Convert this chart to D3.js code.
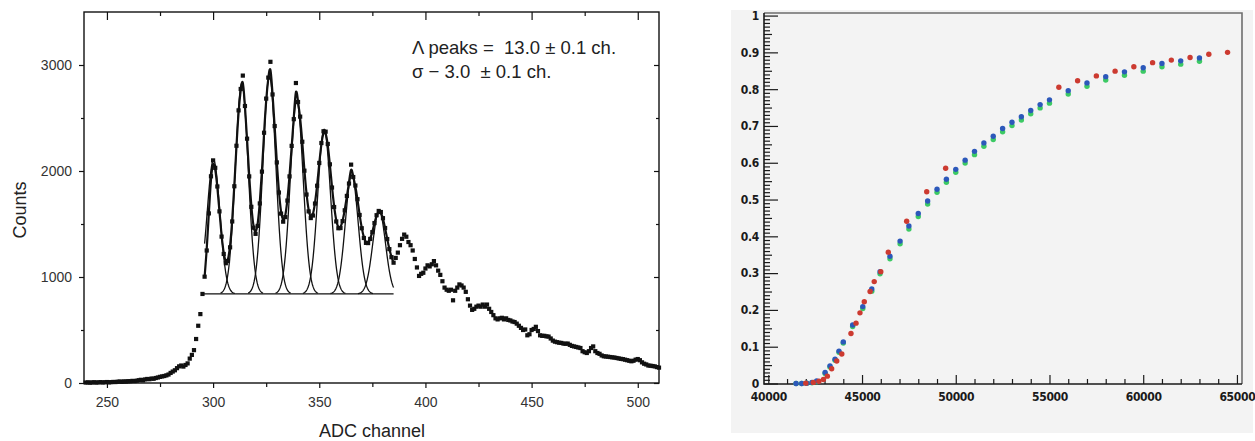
<!DOCTYPE html>
<html><head><meta charset="utf-8">
<script src="https://cdn.jsdelivr.net/npm/d3@7"></script>
<style>
body{margin:0;background:#fff;}
svg{display:block;}
</style></head><body>
<svg id="c" width="1255" height="441"></svg>
<script>
// ================= LEFT CHART DATA =================
const channelStart = 240; // counts[i] belongs to ADC channel channelStart + i
const counts = [
  4,6,3,5,7,4,6,8,5,7,
  9,6,8,10,9,12,14,11,15,13,
  17,16,20,18,22,26,30,25,34,38,
  36,42,40,47,52,58,62,66,72,80,
  95,108,120,140,157,165,155,170,185,230,
  265,310,415,540,650,840,
  1003,1250,1600,1950,2100,2030,1854,1619,1381,1217,
  1130,1151,1280,1524,1856,2238,2572,2774,2900,2613,
  2305,1949,1662,1465,1407,1482,1694,1994,2361,2683,
  2881,3030,2722,2424,2081,1797,1598,1522,1565,1721,
  1949,2237,2489,2830,2651,2513,2276,2003,1778,1619,
  1556,1580,1693,1861,2076,2264,2375,2371,2255,2063,
  1844,1660,1524,1460,1462,1527,1629,1765,1882,2060,
  1943,1863,1734,1585,1460,1368,1322,1320,1359,1423,
  1509,1583,1623,1613,1555,1462,1358,1263,1187,1135,
  1180,1230,1300,1360,1400,
  1380,1330,1300,1250,1170,1090,1010,1030,1040,1080,
  1110,1100,1120,1150,1110,1060,1020,960,900,880,
  870,880,780,870,900,930,920,900,860,790,
  730,690,700,720,730,720,740,720,740,700,
  670,640,610,600,610,615,600,610,595,590,
  580,575,560,540,520,500,505,450,460,500,
  510,530,490,450,445,445,440,438,420,400,
  390,385,380,378,372,370,372,360,350,345,
  340,335,330,300,290,283,300,330,345,300,
  283,275,260,252,250,248,245,242,240,236,
  232,228,225,220,215,210,205,210,220,226,
  215,195,182,175,165,163,160,157,150,145
];
const peakCenters = [300.2, 313.5, 326.5, 339.4, 352.3, 365.3, 378.2];
const peakHeights = [1264, 1987, 2056, 1820, 1553, 1122, 786];
const peakSigma = [3.0];
const fitBaseline = [840];
const fitRange = [295, 385];
const xTicksL = [250, 300, 350, 400, 450, 500];
const xMinorL = [275, 325, 375, 425, 475];
const yTicksL = [0, 1000, 2000, 3000];
const yMinorL = [500, 1500, 2500];

// ================= RIGHT CHART DATA =================
const blueX = [41480,41780,42050,42330,42580,43030,43290,43560,43770,44000,44500,45040,45520,45960,46490,47030,47500,48000,48500,49000,49500,50000,50500,51000,51500,52000,52500,53000,53500,54000,54500,55000,56000,57000,58000,59000,60000,61000,62000,63000];
const blueY = [0.000,0.000,0.001,0.003,0.007,0.030,0.048,0.066,0.088,0.113,0.159,0.209,0.257,0.304,0.346,0.387,0.428,0.462,0.496,0.528,0.555,0.582,0.607,0.631,0.654,0.672,0.693,0.710,0.725,0.742,0.758,0.771,0.796,0.817,0.834,0.847,0.858,0.870,0.877,0.885];
const greenY = [0.000,0.000,0.001,0.002,0.005,0.027,0.045,0.063,0.085,0.110,0.155,0.204,0.251,0.298,0.339,0.380,0.420,0.454,0.488,0.520,0.547,0.574,0.599,0.622,0.645,0.663,0.684,0.701,0.716,0.733,0.749,0.762,0.787,0.808,0.825,0.838,0.849,0.861,0.868,0.876];
const redX = [42000,42400,42700,42940,43150,43380,43650,43920,44410,44680,44890,45120,45430,45650,46000,46400,47380,48450,49460,55500,56500,57500,58500,59500,60500,61500,62500,63500,64500];
const redY = [0.001,0.003,0.006,0.011,0.020,0.040,0.061,0.080,0.136,0.164,0.192,0.222,0.250,0.277,0.304,0.357,0.441,0.521,0.585,0.805,0.823,0.836,0.849,0.861,0.872,0.879,0.886,0.895,0.900];
const xTicksR = [40000, 45000, 50000, 55000, 60000, 65000];
const yTicksR = [0, 0.1, 0.2, 0.3, 0.4, 0.5, 0.6, 0.7, 0.8, 0.9, 1];
const seriesColors = {red: "#cc3a30", green: "#3cc964", blue: "#2c58ba"};

// ================= DRAW =================
const svg = d3.select("#c");
const fontL = "'Liberation Sans', Arial, sans-serif";

// ---------- left chart ----------
const L = {x0: 84, x1: 659, y0: 12, y1: 383};
const xL = d3.scaleLinear().domain([239.2, 510]).range([L.x0, L.x1]);
const yL = d3.scaleLinear().domain([0, 3500]).range([L.y1, L.y0]);
const gL = svg.append("g");

function styleAxis(g, font, size, weight, color) {
  g.select(".domain").remove();
  g.selectAll("line").attr("stroke", "#111").attr("stroke-width", 1.2);
  g.selectAll("text").attr("font-family", font).attr("font-size", size)
    .attr("font-weight", weight).attr("fill", color);
}
const fmtInt = d3.format("d");

gL.append("g").attr("transform", `translate(0,${L.y1})`)
  .call(d3.axisBottom(xL).tickValues(xTicksL).tickSize(5).tickPadding(9).tickFormat(fmtInt))
  .call(g => styleAxis(g, fontL, 14, "normal", "#333"));
gL.append("g").attr("transform", `translate(0,${L.y1})`)
  .call(d3.axisBottom(xL).tickValues(xMinorL).tickSize(4).tickFormat(""))
  .call(g => styleAxis(g, fontL, 14, "normal", "#333"));
gL.append("g").attr("transform", `translate(0,${L.y0})`)
  .call(d3.axisTop(xL).tickValues(xTicksL).tickSize(-8).tickFormat(""))
  .call(g => styleAxis(g, fontL, 14, "normal", "#333"));
gL.append("g").attr("transform", `translate(0,${L.y0})`)
  .call(d3.axisTop(xL).tickValues(xMinorL).tickSize(-4).tickFormat(""))
  .call(g => styleAxis(g, fontL, 14, "normal", "#333"));
gL.append("g").attr("transform", `translate(${L.x0},0)`)
  .call(d3.axisLeft(yL).tickValues(yTicksL).tickSize(5).tickPadding(7).tickFormat(fmtInt))
  .call(g => styleAxis(g, fontL, 14, "normal", "#333"));
gL.append("g").attr("transform", `translate(${L.x0},0)`)
  .call(d3.axisLeft(yL).tickValues(yMinorL).tickSize(3).tickFormat(""))
  .call(g => styleAxis(g, fontL, 14, "normal", "#333"));
gL.append("g").attr("transform", `translate(${L.x1},0)`)
  .call(d3.axisRight(yL).tickValues(yTicksL).tickSize(-5).tickFormat(""))
  .call(g => styleAxis(g, fontL, 14, "normal", "#333"));
gL.append("g").attr("transform", `translate(${L.x1},0)`)
  .call(d3.axisRight(yL).tickValues(yMinorL).tickSize(-3).tickFormat(""))
  .call(g => styleAxis(g, fontL, 14, "normal", "#333"));

gL.append("rect").attr("x", L.x0).attr("y", L.y0)
  .attr("width", L.x1 - L.x0).attr("height", L.y1 - L.y0)
  .attr("fill", "none").attr("stroke", "#111").attr("stroke-width", 1.4);

const pts = counts.map((c, i) => ({ch: channelStart + i, c}));
const clipL = gL.append("g");

// fit baseline
clipL.append("line")
  .attr("x1", xL(fitRange[0])).attr("x2", xL(fitRange[1]))
  .attr("y1", yL(fitBaseline[0])).attr("y2", yL(fitBaseline[0]))
  .attr("stroke", "#111").attr("stroke-width", 1.3);

// individual gaussian fits
peakCenters.forEach((c, k) => {
  const lo = Math.max(c - 10, fitRange[0] + 1), hi = Math.min(c + 10, fitRange[1]);
  const xs = d3.range(lo, hi + 0.001, 0.2);
  const line = d3.line()
    .x(x => xL(x))
    .y(x => yL(fitBaseline[0] + peakHeights[k] * Math.exp(-((x - c) ** 2) / (2 * peakSigma[0] ** 2))));
  clipL.append("path").attr("d", line(xs)).attr("fill", "none")
    .attr("stroke", "#111").attr("stroke-width", 1.3);
});

// data line through the peak region
const peakPts = pts.filter(p => p.ch >= fitRange[0] + 1 && p.ch <= fitRange[1]);
clipL.append("path")
  .attr("d", d3.line().x(p => xL(p.ch)).y(p => yL(p.c)).curve(d3.curveBasis)(peakPts))
  .attr("fill", "none").attr("stroke", "#111").attr("stroke-width", 2.2);

// data squares
const sq = 4.2;
clipL.selectAll("rect.pt").data(pts).join("rect").attr("class", "pt")
  .attr("x", p => xL(p.ch) - sq / 2).attr("y", p => yL(p.c) - sq / 2)
  .attr("width", sq).attr("height", sq).attr("fill", "#111");

// axis titles
gL.append("text").attr("x", 372).attr("y", 437).attr("text-anchor", "middle")
  .attr("font-family", fontL).attr("font-size", 18).attr("fill", "#222").text("ADC channel");
gL.append("text").attr("transform", "translate(26,210) rotate(-90)").attr("text-anchor", "middle")
  .attr("font-family", fontL).attr("font-size", 18).attr("fill", "#222").text("Counts");

// annotation
const ann = gL.append("text").attr("font-family", fontL).attr("font-size", 18.5).attr("fill", "#222")
  .attr("xml:space", "preserve").style("white-space", "pre");
ann.append("tspan").attr("x", 412).attr("y", 54).text("Λ peaks =  13.0 ± 0.1 ch.");
ann.append("tspan").attr("x", 412).attr("y", 78).text("σ − 3.0  ± 0.1 ch.");

// ---------- right chart ----------
const R = {x0: 764, x1: 1242, y0: 13, y1: 384};
const xR = d3.scaleLinear().domain([39770, 65270]).range([R.x0, R.x1]);
const yR = d3.scaleLinear().domain([0, 1.007]).range([383.5, 13]);
const gR = svg.append("g");
const fontR = "'Liberation Sans Narrow', 'DejaVu Sans Condensed', 'Liberation Sans', sans-serif";

gR.append("rect").attr("x", 731).attr("y", 10).attr("width", 522).attr("height", 423).attr("fill", "#f3f3f3");

// frame top & right
gR.append("path")
  .attr("d", `M${R.x0},${R.y0}H${R.x1}V${R.y1}`)
  .attr("fill", "none").attr("stroke", "#6e6e6e").attr("stroke-width", 1.6);

const yMinorR = d3.range(0, 101).map(i => i / 100).filter(v => Math.round(v * 100) % 10 !== 0);
const yMidR = yMinorR.filter(v => Math.round(v * 100) % 5 === 0);
const yMinR = yMinorR.filter(v => Math.round(v * 100) % 5 !== 0);
const xMinorR = d3.range(41000, 65000, 1000).filter(v => v % 5000 !== 0);

function styleR(g) {
  g.select(".domain").remove();
  g.selectAll("line").attr("stroke", "#1a1a1a").attr("stroke-width", 1.2);
  g.selectAll("text").attr("font-family", fontR).attr("font-size", 12)
    .attr("font-weight", "bold").attr("fill", "#1a1a1a").attr("letter-spacing", -0.3);
}
gR.append("g").attr("transform", `translate(${R.x0},0)`)
  .call(d3.axisLeft(yR).tickValues(yTicksR).tickSize(-14).tickPadding(5).tickFormat(d => d3.format("~g")(d)))
  .call(styleR);
gR.append("g").attr("transform", `translate(${R.x0},0)`)
  .call(d3.axisLeft(yR).tickValues(yMidR).tickSize(-8).tickFormat("")).call(styleR);
gR.append("g").attr("transform", `translate(${R.x0},0)`)
  .call(d3.axisLeft(yR).tickValues(yMinR).tickSize(-6).tickFormat("")).call(styleR);
gR.append("g").attr("transform", `translate(0,${R.y1})`)
  .call(d3.axisBottom(xR).tickValues(xTicksR).tickSize(-9).tickPadding(8).tickFormat(fmtInt))
  .call(styleR);
gR.append("g").attr("transform", `translate(0,${R.y1})`)
  .call(d3.axisBottom(xR).tickValues(xMinorR).tickSize(-5).tickFormat("")).call(styleR);

// axis lines
gR.append("path").attr("d", `M${R.x0},${R.y0}V${R.y1}H${R.x1}`)
  .attr("fill", "none").attr("stroke", "#1a1a1a").attr("stroke-width", 1.6);

function dots(xs, ys, color) {
  gR.append("g").selectAll("circle").data(xs.map((x, i) => [x, ys[i]])).join("circle")
    .attr("cx", d => xR(d[0])).attr("cy", d => yR(d[1])).attr("r", 2.7)
    .attr("fill", color);
}
dots(blueX, greenY, seriesColors.green);
dots(blueX, blueY, seriesColors.blue);
dots(redX, redY, seriesColors.red);
</script>
</body></html>
